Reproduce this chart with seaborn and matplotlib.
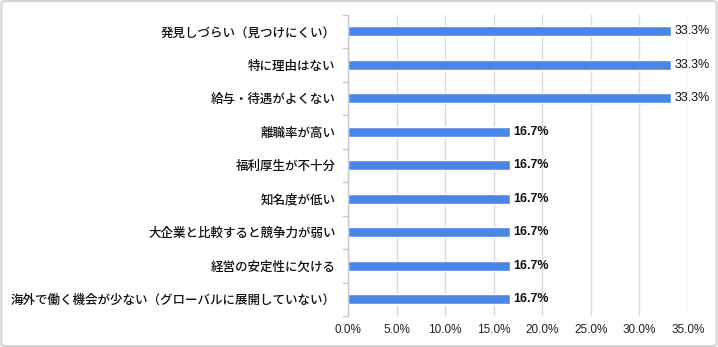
import matplotlib
matplotlib.use("Agg")
import matplotlib.pyplot as plt
import seaborn as sns
import pandas as pd
import numpy as np
from matplotlib.patches import FancyBboxPatch

categories = [
    "発見しづらい（見つけにくい）",
    "特に理由はない",
    "給与・待遇がよくない",
    "離職率が高い",
    "福利厚生が不十分",
    "知名度が低い",
    "大企業と比較すると競争力が弱い",
    "経営の安定性に欠ける",
    "海外で働く機会が少ない（グローバルに展開していない）",
]
values = [33.3, 33.3, 33.3, 16.7, 16.7, 16.7, 16.7, 16.7, 16.7]
value_labels = ["33.3%", "33.3%", "33.3%", "16.7%", "16.7%", "16.7%", "16.7%", "16.7%", "16.7%"]
xticks = [0, 5, 10, 15, 20, 25, 30, 35]

sns.set_theme(style="white")
plt.rcParams['font.family'] = ['Noto Sans CJK JP', 'DejaVu Sans']

df = pd.DataFrame({"cat": categories, "val": values})

fig = plt.figure(figsize=(7.18, 3.47), dpi=100)
ax = fig.add_axes([0.4847, 0.0893, 0.9582 - 0.4847, 0.958 - 0.0893])

sns.barplot(data=df, y="cat", x="val", orient="h", color="#4a86e8",
            saturation=1, width=0.3, ax=ax)

ax.set_xlim(0, 35)
ax.set_xticks(xticks)
ax.set_xticklabels([f"{t:.1f}%" for t in xticks], fontsize=8.5, color="#222222",
                   family=['Liberation Sans', 'DejaVu Sans'])
ax.set_xlabel("")
ax.set_ylabel("")
ax.grid(axis="x", color="#d9d9d9", linewidth=1)
ax.set_axisbelow(True)
for s in ["top", "right", "bottom"]:
    ax.spines[s].set_visible(False)
ax.spines["left"].set_color("#c8c8c8")
ax.spines["left"].set_linewidth(1)

ax.tick_params(axis="y", length=0, pad=9, labelsize=9, labelcolor="#111111")
for lbl in ax.get_yticklabels():
    lbl.set_fontweight("medium")
ax.tick_params(axis="x", length=0, pad=6)
ax.set_yticks(np.arange(len(categories) + 1) - 0.5, minor=True)
ax.tick_params(axis="y", which="minor", length=4, color="#c8c8c8", width=1, left=True)
ax.set_ylim(len(categories) - 0.5, -0.5)

for i, (v, lab) in enumerate(zip(values, value_labels)):
    ax.text(v + 0.3, i, lab, va="center", ha="left", fontsize=9,
            fontweight="normal" if v > 30 else "bold", color="#111111",
            family=['Liberation Sans', 'DejaVu Sans'])

border = FancyBboxPatch((0.002, 0.003), 0.996, 0.994, boxstyle="round,pad=0,rounding_size=0.005",
                        transform=fig.transFigure, fill=False, edgecolor="#d4d4d4", linewidth=1.5)
fig.patches.append(border)

fig.savefig("out.png", dpi=100)
